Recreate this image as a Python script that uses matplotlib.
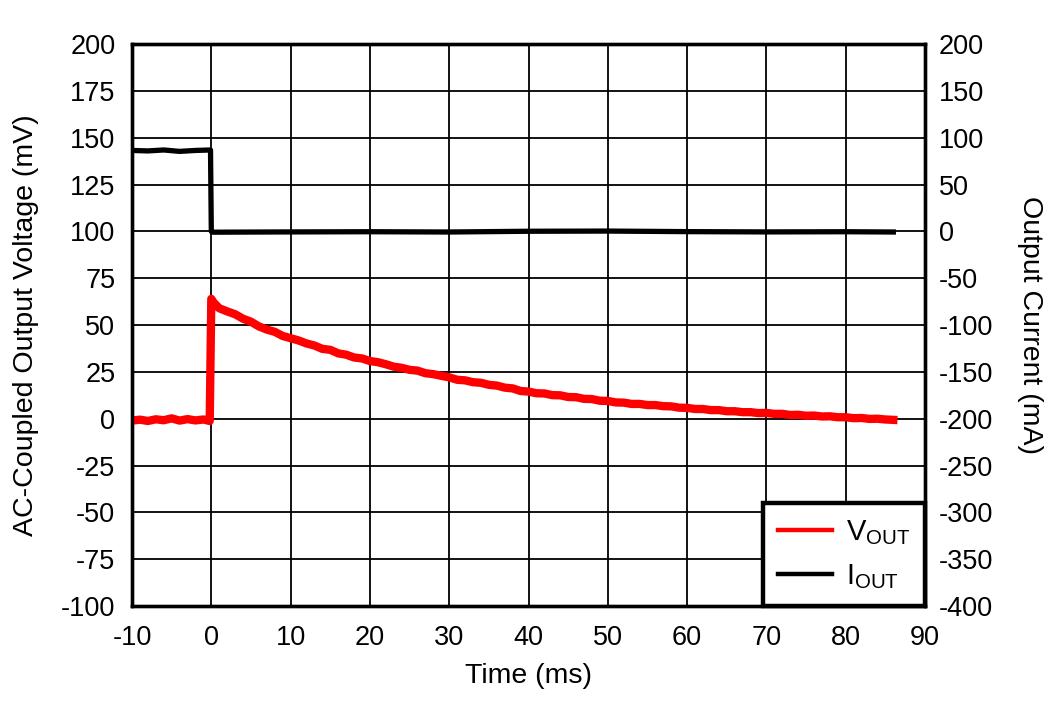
import matplotlib
matplotlib.use("Agg")
import matplotlib.pyplot as plt
from matplotlib.lines import Line2D

plt.rcParams['font.family'] = ['Liberation Sans', 'DejaVu Sans']
plt.rcParams['mathtext.fontset'] = 'custom'
plt.rcParams['mathtext.rm'] = 'Liberation Sans'
plt.rcParams['mathtext.it'] = 'Liberation Sans'
plt.rcParams['axes.unicode_minus'] = False

# ---- data ----
vout_t = [-10, -9, -8, -7, -6, -5, -4, -3, -2, -1, -0.2, 0.0, 0.3,
          1, 2, 3, 4, 5, 6, 7, 8, 9, 10, 11, 12, 13, 14, 15, 16, 17, 18, 19,
          20, 21, 22, 23, 24, 25, 26, 27, 28, 29, 30, 31, 32, 33, 34, 35, 36,
          37, 38, 39, 40, 41, 42, 43, 44, 45, 46, 47, 48, 49, 50, 51, 52, 53,
          54, 55, 56, 57, 58, 59, 60, 61, 62, 63, 64, 65, 66, 67, 68, 69, 70,
          71, 72, 73, 74, 75, 76, 77, 78, 79, 80, 81, 82, 83, 84, 85, 86]
vout_mv = [-1.0, -0.5, -1.2, -0.3, -0.8, 0.2, -1.0, -0.2, -0.9, -0.4, -1.2, 64.0, 62.0,
           59.0, 57.3, 55.8, 53.4, 51.8, 49.3, 47.6, 46.4, 44.2, 43.0, 41.8, 40.2, 39.1,
           37.3, 36.8, 34.9, 34.2, 32.7, 32.2, 30.8, 30.2, 29.1, 27.8, 27.2, 26.1, 25.7,
           24.3, 23.8, 22.9, 22.1, 20.8, 20.5, 19.5, 19.2, 18.1, 17.7, 16.6, 16.2, 14.8,
           14.5, 13.6, 13.5, 12.6, 12.5, 11.6, 11.5, 10.6, 10.5, 9.6, 9.5, 8.7, 8.6, 7.9,
           7.9, 7.3, 7.3, 6.7, 6.6, 5.9, 5.8, 5.2, 5.2, 4.6, 4.6, 4.0, 4.0, 3.5, 3.5,
           3.0, 3.1, 2.6, 2.6, 2.0, 2.1, 1.6, 1.7, 1.2, 1.3, 0.8, 0.8, 0.3, 0.4, -0.1,
           0.0, -0.4, -0.6]

iout_t = [-10, -8, -6, -4, -2, -0.1, 0.0, 0.2, 10, 20, 30, 40, 50, 60, 70, 80, 86]
iout_ma = [86.5, 86.0, 87.0, 85.5, 86.5, 87.0, 0.0, -0.8, -0.5, -0.3, -0.6, 0.2,
           0.4, -0.2, -0.5, -0.3, -0.6]

x_ticks = [-10, 0, 10, 20, 30, 40, 50, 60, 70, 80, 90]
yl_ticks = [-100, -75, -50, -25, 0, 25, 50, 75, 100, 125, 150, 175, 200]
yr_ticks = [-400, -350, -300, -250, -200, -150, -100, -50, 0, 50, 100, 150, 200]

# ---- figure ----
fig = plt.figure(figsize=(10.56, 7.01), dpi=100)
ax = fig.add_axes([0.125, 0.1355, 0.751, 0.8015])
ax2 = ax.twinx()

ax.set_xlim(-10, 90)
ax.set_ylim(-100, 200)
ax2.set_ylim(-400, 200)
ax.set_xticks(x_ticks)
ax.set_yticks(yl_ticks)
ax2.set_yticks(yr_ticks)

ax.grid(True, color='black', linewidth=1.3)
ax.set_axisbelow(True)

ax.plot(vout_t, vout_mv, color='#ff0000', linewidth=6.0, solid_joinstyle='round', zorder=3)
ax2.plot(iout_t, iout_ma, color='black', linewidth=3.8, zorder=3)

for a in (ax, ax2):
    for s in a.spines.values():
        s.set_linewidth(2.4)
    a.tick_params(length=0, labelsize=19.5)
ax.tick_params(axis='x', pad=14)
ax.tick_params(axis='y', pad=12)
ax2.tick_params(axis='y', pad=10)

ax.set_xlabel('Time (ms)', fontsize=20.5, labelpad=8)
ax.set_ylabel('AC-Coupled Output Voltage (mV)', fontsize=20.5, labelpad=16)
ax2.set_ylabel('Output Current (mA)', fontsize=20.5, rotation=-90, labelpad=36)

handles = [Line2D([0], [0], color='#ff0000', linewidth=3.2),
           Line2D([0], [0], color='black', linewidth=3.2)]
leg = ax2.legend(handles, [r'V$_\mathrm{OUT}$', r'I$_\mathrm{OUT}$'],
                 loc='lower right', borderaxespad=0, fontsize=21,
                 fancybox=False, framealpha=1, edgecolor='black',
                 handlelength=1.85, borderpad=0.5, labelspacing=0.55,
                 handletextpad=0.5)
leg.get_frame().set_linewidth(3.2)

fig.savefig('out.png', dpi=100)
